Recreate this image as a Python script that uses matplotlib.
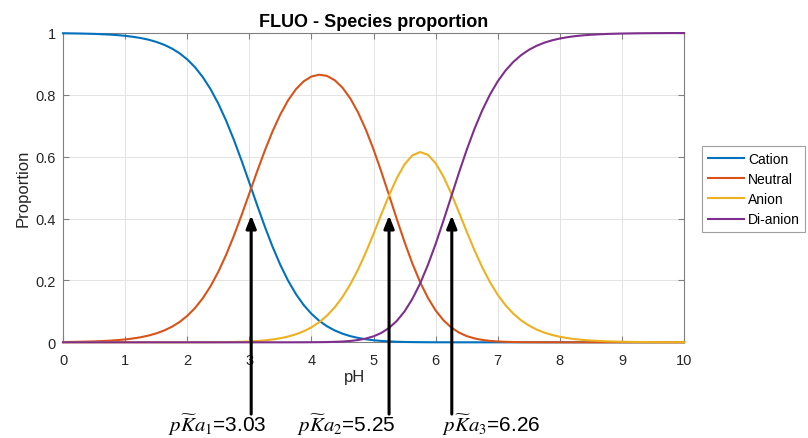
import matplotlib
matplotlib.use("Agg")
import matplotlib.pyplot as plt

plt.rcParams['font.family'] = ['Liberation Sans', 'DejaVu Sans']
plt.rcParams['mathtext.fontset'] = 'stix'

# species fractions vs pH (finer steps where the curves bend)
ph = [0.0, 0.25, 0.5,
      0.75, 0.875, 1.0, 1.125, 1.25, 1.375, 1.5, 1.625, 1.75, 1.875,
      2.0, 2.125, 2.25, 2.375, 2.5, 2.625, 2.75, 2.875,
      3.0, 3.125, 3.25, 3.375, 3.5, 3.625, 3.75, 3.875,
      4.0, 4.125, 4.25, 4.375, 4.5, 4.625, 4.75, 4.875,
      5.0, 5.125, 5.25, 5.375, 5.5, 5.625, 5.75, 5.875,
      6.0, 6.125, 6.25, 6.375, 6.5, 6.625, 6.75, 6.875,
      7.0, 7.125, 7.25, 7.375, 7.5, 7.625, 7.75, 7.875,
      8.0, 8.125, 8.25, 8.375, 8.5,
      8.75, 9.0, 9.25, 9.5, 9.75, 10.0]
cation = [0.9991, 0.9983, 0.9971,
          0.9948, 0.9931, 0.9908, 0.9877, 0.9837, 0.9784, 0.9713, 0.9621, 0.9501, 0.9346,
          0.9146, 0.8893, 0.8575, 0.8186, 0.7718, 0.7171, 0.6551, 0.5873,
          0.5159, 0.4437, 0.3737, 0.3084, 0.2498, 0.1989, 0.1559, 0.1206,
          0.0921, 0.0695, 0.0519, 0.0383, 0.0279, 0.0200, 0.0142, 0.0098,
          0.0067, 0.0044, 0.0029, 0.0018, 0.0011, 0.0007, 0.0004, 0.0002,
          0.0001, 0.0001] + [0.0] * 25
neutral = [0.0009, 0.0017, 0.0029,
           0.0052, 0.0070, 0.0092, 0.0123, 0.0163, 0.0217, 0.0287, 0.0379, 0.0499, 0.0654,
           0.0854, 0.1107, 0.1423, 0.1812, 0.2278, 0.2822, 0.3438, 0.4110,
           0.4814, 0.5522, 0.6201, 0.6825, 0.7371, 0.7826, 0.8182, 0.8437,
           0.8593, 0.8651, 0.8612, 0.8473, 0.8232, 0.7886, 0.7435, 0.6881,
           0.6235, 0.5516, 0.4753, 0.3981, 0.3236, 0.2549, 0.1945, 0.1438,
           0.1029, 0.0715, 0.0481, 0.0315, 0.0201, 0.0126, 0.0077, 0.0046,
           0.0027, 0.0016, 0.0009, 0.0005, 0.0003, 0.0002, 0.0001, 0.0001] + [0.0] * 11
anion = [0.0] * 13 + [
         0.0001, 0.0001, 0.0001, 0.0002, 0.0004, 0.0007, 0.0011, 0.0017,
         0.0027, 0.0041, 0.0062, 0.0091, 0.0131, 0.0186, 0.0259, 0.0356,
         0.0483, 0.0649, 0.0861, 0.1130, 0.1464, 0.1870, 0.2351, 0.2902,
         0.3506, 0.4137, 0.4753, 0.5309, 0.5754, 0.6044, 0.6151, 0.6062,
         0.5789, 0.5358, 0.4814, 0.4205, 0.3579, 0.2977, 0.2426, 0.1944,
         0.1535, 0.1199, 0.0927, 0.0712, 0.0544, 0.0414, 0.0313, 0.0237,
         0.0179, 0.0135, 0.0101, 0.0076, 0.0057,
         0.0032, 0.0018, 0.0010, 0.0006, 0.0003, 0.0002]
dianion = [0.0] * 27 + [
           0.0001, 0.0001,
           0.0003, 0.0005, 0.0008, 0.0015, 0.0025, 0.0043, 0.0073, 0.0120,
           0.0193, 0.0303, 0.0465, 0.0692, 0.1000, 0.1401, 0.1901, 0.2498,
           0.3181, 0.3927, 0.4704, 0.5480, 0.6220, 0.6898, 0.7497, 0.8010,
           0.8437, 0.8785, 0.9063, 0.9282, 0.9453, 0.9585, 0.9686, 0.9763,
           0.9821, 0.9865, 0.9899, 0.9924, 0.9943,
           0.9968, 0.9982, 0.9990, 0.9994, 0.9997, 0.9998]

species = ['Cation', 'Neutral', 'Anion', 'Di-anion']
colors = ['#0072BD', '#D95319', '#EDB120', '#7E2F8E']

pka = [3.03, 5.25, 6.26]
pka_text_x = [1.69, 3.77, 6.10]

fig = plt.figure(figsize=(8.08, 4.39), dpi=100)
ax = fig.add_axes([0.078, 0.218, 0.7686, 0.7046])

for name, vals, c in zip(species, [cation, neutral, anion, dianion], colors):
    ax.plot(ph, vals, color=c, lw=1.5, label=name, clip_on=False, zorder=3)

ax.set_xlim(0, 10)
ax.set_ylim(0, 1)
ax.set_xticks(range(11))
ax.set_yticks([0, 0.2, 0.4, 0.6, 0.8, 1])
ax.set_yticklabels(['0', '0.2', '0.4', '0.6', '0.8', '1'])
ax.grid(True, color='#e3e3e3', lw=0.7)
ax.set_axisbelow(True)
ax.tick_params(direction='in', top=True, right=True, length=4, color='#808080',
               labelsize=10.5, labelcolor='#262626')
ax.tick_params(axis='x', pad=8)
ax.tick_params(axis='y', pad=5)
for sp in ax.spines.values():
    sp.set_color('#808080')
    sp.set_linewidth(0.8)

ax.set_title('FLUO - Species proportion', fontsize=13, fontweight='bold', pad=5)
ax.set_ylabel('Proportion', fontsize=12, color='#262626')
ax.set_xlabel('pH', fontsize=12, color='#262626')
ax.xaxis.set_label_coords(0.47, -0.085)

# arrows pointing at each pKa, with the value written underneath
for k, (p, tx) in enumerate(zip(pka, pka_text_x)):
    ax.annotate('', xy=(p, 0.41), xytext=(p, -0.232), annotation_clip=False,
                arrowprops=dict(arrowstyle='-|>,head_length=0.75,head_width=0.3',
                                mutation_scale=10, color='black', lw=2.2,
                                shrinkA=0, shrinkB=0))
    ax.text(tx, -0.287, r'$p\widetilde{K}a_%d$=%.2f' % (k + 1, p), fontsize=15,
            ha='left', va='baseline', clip_on=False)

leg = fig.legend(loc='upper left', bbox_to_anchor=(0.869, 0.665), fontsize=10,
                 frameon=True, fancybox=False, framealpha=1, edgecolor='#a0a0a0',
                 handlelength=2.6, handletextpad=0.3, labelspacing=0.45,
                 borderpad=0.4, borderaxespad=0)
leg.get_frame().set_linewidth(0.8)

fig.savefig('out.png', dpi=100)
